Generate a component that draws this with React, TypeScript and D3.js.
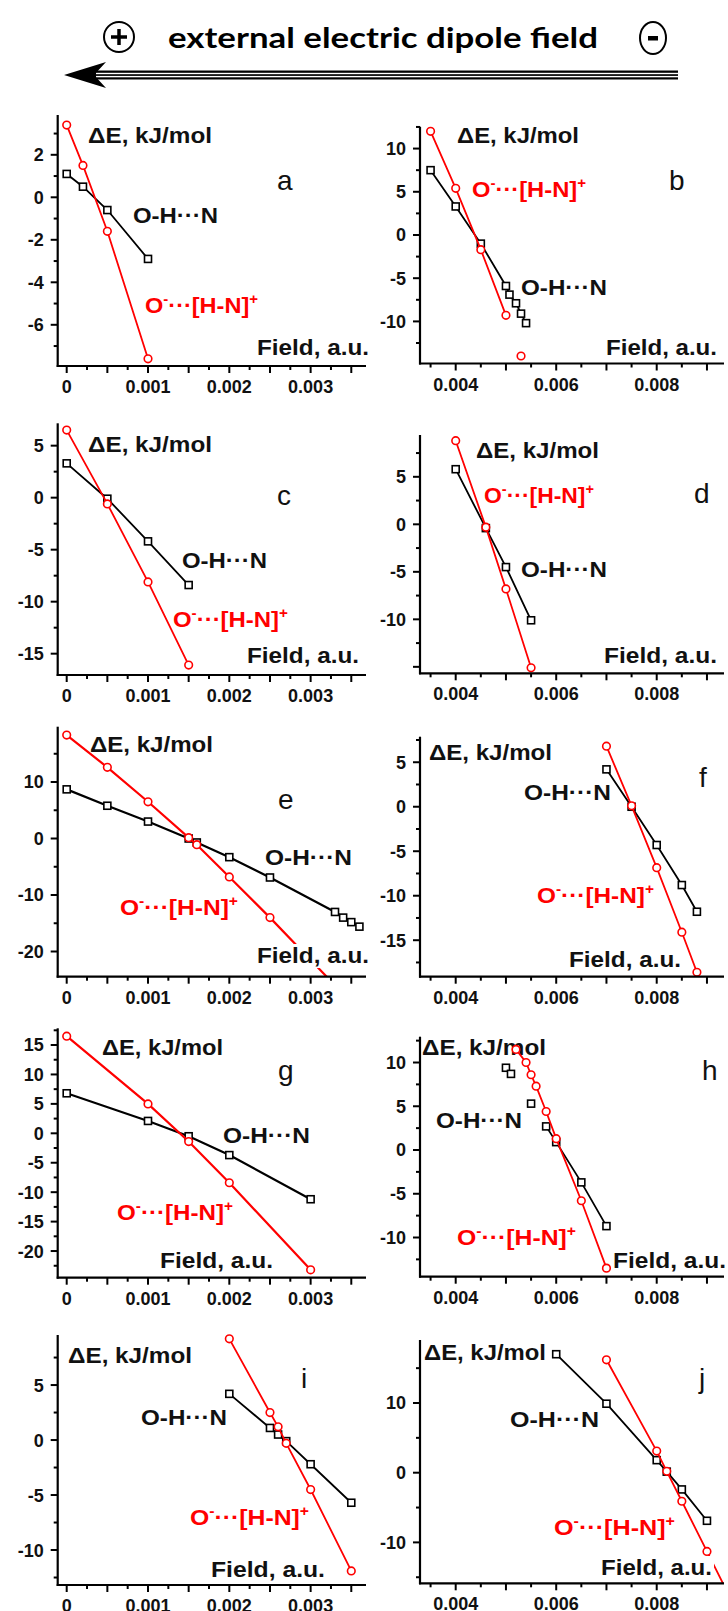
import React from "react";
import * as d3 from "d3";

type Pt = [number, number];

// ---------- data ----------
const aOHN: Pt[] = [[0, 1.1], [0.0002, 0.5], [0.0005, -0.6], [0.001, -2.9]];
const aIon: Pt[] = [[0, 3.4], [0.0002, 1.5], [0.0005, -1.6], [0.001, -7.6]];

const bOHN: Pt[] = [[0.0035, 7.5], [0.004, 3.3], [0.0045, -1.0], [0.005, -5.9], [0.00507, -6.9], [0.0052, -7.9], [0.0053, -9.1], [0.0054, -10.2]];
const bIon: Pt[] = [[0.0035, 12.0], [0.004, 5.4], [0.0045, -1.7], [0.005, -9.3]];
const bIonLone: Pt[] = [[0.0053, -14.0]];

const cOHN: Pt[] = [[0, 3.3], [0.0005, -0.1], [0.001, -4.2], [0.0015, -8.4]];
const cIon: Pt[] = [[0, 6.5], [0.0005, -0.6], [0.001, -8.1], [0.0015, -16.1]];

const dOHN: Pt[] = [[0.004, 5.8], [0.0046, -0.4], [0.005, -4.5], [0.0055, -10.1]];
const dIon: Pt[] = [[0.004, 8.8], [0.0046, -0.3], [0.005, -6.8], [0.0055, -15.1]];

const eOHN: Pt[] = [[0, 8.7], [0.0005, 5.8], [0.001, 3.0], [0.0015, 0.0], [0.0016, -0.7], [0.002, -3.3], [0.0025, -6.9], [0.0033, -13.0], [0.0034, -14.0], [0.0035, -14.8], [0.0036, -15.6]];
const eIon: Pt[] = [[0, 18.3], [0.0005, 12.6], [0.001, 6.5], [0.0015, 0.15], [0.0016, -1.1], [0.002, -6.8], [0.0025, -14.0], [0.003, -21.5], [0.0035, -29]];

const fOHN: Pt[] = [[0.007, 4.2], [0.0075, 0.0], [0.008, -4.3], [0.0085, -8.8], [0.0088, -11.8]];
const fIon: Pt[] = [[0.007, 6.8], [0.0075, 0.1], [0.008, -6.85], [0.0085, -14.1], [0.0088, -18.6]];

const gOHN: Pt[] = [[0, 6.8], [0.001, 2.1], [0.0015, -0.5], [0.002, -3.7], [0.003, -11.2]];
const gIon: Pt[] = [[0, 16.5], [0.001, 5.0], [0.0015, -1.4], [0.002, -8.4], [0.003, -23.2]];

const hOHNLone: Pt[] = [[0.005, 9.4], [0.0051, 8.7], [0.0055, 5.3]];
const hOHN: Pt[] = [[0.0058, 2.7], [0.006, 0.9], [0.0065, -3.7], [0.007, -8.7]];
const hIon: Pt[] = [[0.0052, 11.5], [0.0054, 10.0], [0.0055, 8.6], [0.0056, 7.3], [0.0058, 4.4], [0.006, 1.3], [0.0065, -5.8], [0.007, -13.5]];

const iOHN: Pt[] = [[0.002, 4.2], [0.0025, 1.1], [0.0026, 0.5], [0.0027, -0.1], [0.003, -2.2], [0.0035, -5.7]];
const iIon: Pt[] = [[0.002, 9.2], [0.0025, 2.5], [0.0026, 1.2], [0.0027, -0.3], [0.003, -4.5], [0.0035, -11.9]];

const jOHN: Pt[] = [[0.006, 17.0], [0.007, 9.9], [0.008, 1.8], [0.0082, 0.15], [0.0085, -2.4], [0.009, -6.9]];
const jIon: Pt[] = [[0.007, 16.2], [0.008, 3.1], [0.0082, 0.2], [0.0085, -4.1], [0.009, -11.3], [0.0095, -18.5]];

// tick labels
const col1XLabels = [0, 0.001, 0.002, 0.003];
const col2XLabels = [0.004, 0.006, 0.008];
const aYLabels = [-6, -4, -2, 0, 2];
const bYLabels = [-10, -5, 0, 5, 10];
const cYLabels = [-15, -10, -5, 0, 5];
const dYLabels = [-10, -5, 0, 5];
const eYLabels = [-20, -10, 0, 10];
const fYLabels = [-15, -10, -5, 0, 5];
const gYLabels = [-20, -15, -10, -5, 0, 5, 10, 15];
const hYLabels = [-10, -5, 0, 5, 10];
const iYLabels = [-10, -5, 0, 5];
const jYLabels = [-10, 0, 10];

// axis limits
const col1XDomain: [number, number] = [-0.0001107, 0.003681];
const col2XDomain: [number, number] = [0.0032896, 0.009339];

const FONT = "'Liberation Sans', Arial, Helvetica, sans-serif";
const RED = "#ff0000";
const INK = "#111111";

type Box = [number, number, number]; // x0, x1, baseline

interface PanelSpec {
  key: string;
  letter: string;
  col: 1 | 2;
  top: number;
  axisY: number;
  yDomain: [number, number];
  yLabels: number[];
  yMajor: number;
  yMinor: number;
  black: Pt[];
  red: Pt[];
  blackLone?: Pt[];
  redLone?: Pt[];
  lw: number;
  dE: Box;
  ohn: Box;
  ion: Box;
  field: Box;
  letterPos: [number, number];
}

const panels: PanelSpec[] = [
  { key: "a", letter: "a", col: 1, top: 115, axisY: 366, yDomain: [-7.939, 3.873], yLabels: aYLabels, yMajor: 2, yMinor: 1,
    black: aOHN, red: aIon, lw: 1.8,
    dE: [88, 212, 143], ohn: [133, 218, 223], ion: [145, 258, 313], field: [257, 369, 355], letterPos: [277, 190] },
  { key: "b", letter: "b", col: 2, top: 126.7, axisY: 363.5, yDomain: [-14.87, 12.53], yLabels: bYLabels, yMajor: 5, yMinor: 2.5,
    black: bOHN, red: bIon, redLone: bIonLone, lw: 1.8,
    dE: [457, 579, 143], ohn: [521, 607, 295], ion: [472, 586, 197], field: [606, 717, 355], letterPos: [669, 190] },
  { key: "c", letter: "c", col: 1, top: 423.3, axisY: 675, yDomain: [-17.05, 7.15], yLabels: cYLabels, yMajor: 5, yMinor: 2.5,
    black: cOHN, red: cIon, lw: 1.8,
    dE: [88, 212, 452], ohn: [182, 267, 568], ion: [173, 288, 627], field: [247, 359, 663], letterPos: [277, 505] },
  { key: "d", letter: "d", col: 2, top: 435, axisY: 673.3, yDomain: [-15.68, 9.4], yLabels: dYLabels, yMajor: 5, yMinor: 2.5,
    black: dOHN, red: dIon, lw: 1.8,
    dE: [476, 599, 458], ohn: [521, 607, 577], ion: [484, 594, 503], field: [604, 717, 663], letterPos: [694, 503] },
  { key: "e", letter: "e", col: 1, top: 726.7, axisY: 976.7, yDomain: [-24.46, 19.79], yLabels: eYLabels, yMajor: 10, yMinor: 5,
    black: eOHN, red: eIon, lw: 2.2,
    dE: [90, 213, 752], ohn: [265, 352, 865], ion: [120, 238, 915], field: [257, 369, 963], letterPos: [278, 809] },
  { key: "f", letter: "f", col: 2, top: 736.7, axisY: 976.7, yDomain: [-19.1, 7.87], yLabels: fYLabels, yMajor: 5, yMinor: 2.5,
    black: fOHN, red: fIon, lw: 1.8,
    dE: [429, 552, 760], ohn: [524, 611, 800], ion: [537, 654, 903], field: [569, 681, 967], letterPos: [699, 787] },
  { key: "g", letter: "g", col: 1, top: 1028.3, axisY: 1277.7, yDomain: [-24.53, 17.84], yLabels: gYLabels, yMajor: 5, yMinor: 2.5,
    black: gOHN, red: gIon, lw: 2.2,
    dE: [102, 223, 1055], ohn: [223, 310, 1143], ion: [117, 233, 1220], field: [160, 273, 1268], letterPos: [278, 1080] },
  { key: "h", letter: "h", col: 2, top: 1036.7, axisY: 1276.7, yDomain: [-14.48, 12.95], yLabels: hYLabels, yMajor: 5, yMinor: 2.5,
    black: hOHN, red: hIon, blackLone: hOHNLone, lw: 1.8,
    dE: [422, 546, 1055], ohn: [436, 522, 1128], ion: [457, 576, 1245], field: [613, 726, 1268], letterPos: [702, 1080] },
  { key: "i", letter: "i", col: 1, top: 1335, axisY: 1585, yDomain: [-13.18, 9.55], yLabels: iYLabels, yMajor: 5, yMinor: 2.5,
    black: iOHN, red: iIon, lw: 1.8,
    dE: [68, 192, 1363], ohn: [141, 227, 1425], ion: [190, 309, 1525], field: [211, 325, 1577], letterPos: [301, 1388] },
  { key: "j", letter: "j", col: 2, top: 1340, axisY: 1583.3, yDomain: [-15.87, 19.04], yLabels: jYLabels, yMajor: 10, yMinor: 5,
    black: jOHN, red: jIon, lw: 1.8,
    dE: [424, 546, 1360], ohn: [510, 599, 1427], ion: [554, 675, 1535], field: [601, 712, 1575], letterPos: [699, 1388] },
];

const colGeom = {
  1: { left: 57.7, right: 366, domain: col1XDomain, labels: col1XLabels, major: 0.0005, minor: 0.00025 },
  2: { left: 420, right: 724, domain: col2XDomain, labels: col2XLabels, major: 0.001, minor: 0.0005 },
};

function stepTicks(lo: number, hi: number, step: number): number[] {
  const out: number[] = [];
  const s = Math.ceil(lo / step - 1e-9);
  const e = Math.floor(hi / step + 1e-9);
  for (let k = s; k <= e; k++) out.push(+(k * step).toFixed(8));
  return out;
}

const fmtX = (v: number) => (v === 0 ? "0" : d3.format(".3f")(v));

function Txt({ box, color, children, size = 22 }: { box: Box; color: string; children: React.ReactNode; size?: number }) {
  return (
    <text x={box[0]} y={box[2]} fontFamily={FONT} fontWeight="bold" fontSize={size} fill={color}
      textLength={box[1] - box[0]} lengthAdjust="spacingAndGlyphs">
      {children}
    </text>
  );
}

function IonLabel({ box }: { box: Box }) {
  return (
    <text x={box[0]} y={box[2]} fontFamily={FONT} fontWeight="bold" fontSize={22} fill={RED}
      textLength={box[1] - box[0]} lengthAdjust="spacingAndGlyphs">
      O<tspan fontSize={14} dy={-9}>-</tspan><tspan fontSize={22} dy={9}>···[H-N]</tspan><tspan fontSize={14} dy={-9}>+</tspan>
    </text>
  );
}

function Panel({ p }: { p: PanelSpec }) {
  const g = colGeom[p.col];
  const x = d3.scaleLinear().domain(g.domain).range([g.left, g.right]);
  const y = d3.scaleLinear().domain(p.yDomain).range([p.axisY, p.top]);
  const line = d3.line<Pt>().x((d) => x(d[0])).y((d) => y(d[1]));
  const xMajor = stepTicks(g.domain[0], g.domain[1], g.major);
  const xMinor = stepTicks(g.domain[0], g.domain[1], g.minor).filter((v) => !xMajor.some((m) => Math.abs(m - v) < 1e-9));
  const yMajor = stepTicks(p.yDomain[0], p.yDomain[1], p.yMajor);
  const yMinor = stepTicks(p.yDomain[0], p.yDomain[1], p.yMinor).filter((v) => !yMajor.some((m) => Math.abs(m - v) < 1e-9));
  const clipId = `clip-${p.key}`;
  const sq = 7;
  const redAll = [...p.red, ...(p.redLone || [])];
  const blackAll = [...p.black, ...(p.blackLone || [])];
  const fb = p.field;
  return (
    <g>
      <defs>
        <clipPath id={clipId}>
          <rect x={g.left} y={p.top - 30} width={g.right - g.left + 6} height={p.axisY - p.top + 30} />
        </clipPath>
      </defs>
      {/* text labels */}
      <Txt box={p.dE} color={INK}>ΔE, kJ/mol</Txt>
      <Txt box={p.ohn} color={INK}>O-H···N</Txt>
      <IonLabel box={p.ion} />
      <text x={p.letterPos[0]} y={p.letterPos[1]} fontFamily={FONT} fontSize={28} fill={INK}>{p.letter}</text>
      {/* series */}
      <g clipPath={`url(#${clipId})`}>
        <path d={line(p.black) || ""} fill="none" stroke="#000" strokeWidth={p.lw} />
        {blackAll.map((d, i) => (
          <rect key={"b" + i} x={x(d[0]) - sq / 2} y={y(d[1]) - sq / 2} width={sq} height={sq} fill="#fff" stroke="#000" strokeWidth={1.6} />
        ))}
        <path d={line(p.red) || ""} fill="none" stroke={RED} strokeWidth={p.lw} />
        {redAll.map((d, i) => (
          <circle key={"r" + i} cx={x(d[0])} cy={y(d[1])} r={3.8} fill="#fff" stroke={RED} strokeWidth={1.6} />
        ))}
      </g>
      {/* Field label with white background */}
      <rect x={fb[0] - 2} y={fb[2] - 19} width={fb[1] - fb[0] + 4} height={24} fill="#fff" />
      <Txt box={fb} color={INK}>Field, a.u.</Txt>
      {/* axes */}
      <line x1={g.left} x2={g.left} y1={p.top} y2={p.axisY + 1} stroke="#000" strokeWidth={2.2} />
      <line x1={g.left - 1} x2={g.right} y1={p.axisY} y2={p.axisY} stroke="#000" strokeWidth={2.2} />
      {yMajor.map((v) => (
        <line key={"ym" + v} x1={g.left - 7} x2={g.left} y1={y(v)} y2={y(v)} stroke="#000" strokeWidth={2} />
      ))}
      {yMinor.map((v) => (
        <line key={"yn" + v} x1={g.left - 4} x2={g.left} y1={y(v)} y2={y(v)} stroke="#000" strokeWidth={2} />
      ))}
      {p.yLabels.map((v) => (
        <text key={"yl" + v} x={g.left - 14} y={y(v)} dy="0.36em" textAnchor="end" fontFamily={FONT} fontWeight="bold" fontSize={18} fill={INK}>
          {String(v)}
        </text>
      ))}
      {xMajor.map((v) => (
        <line key={"xm" + v} x1={x(v)} x2={x(v)} y1={p.axisY} y2={p.axisY + 7} stroke="#000" strokeWidth={2} />
      ))}
      {xMinor.map((v) => (
        <line key={"xn" + v} x1={x(v)} x2={x(v)} y1={p.axisY} y2={p.axisY + 4} stroke="#000" strokeWidth={2} />
      ))}
      {g.labels.map((v) => (
        <text key={"xl" + v} x={x(v)} y={p.axisY + 27} textAnchor="middle" fontFamily={FONT} fontWeight="bold" fontSize={18} fill={INK}>
          {fmtX(v)}
        </text>
      ))}
    </g>
  );
}

function Header() {
  return (
    <g>
      <circle cx={119} cy={37} r={15} fill="#fff" stroke="#000" strokeWidth={2} />
      <line x1={111} x2={127} y1={37} y2={37} stroke="#000" strokeWidth={3.5} />
      <line x1={119} x2={119} y1={29} y2={45} stroke="#000" strokeWidth={3.5} />
      <text x={168} y={48} fontFamily="Lato, 'Open Sans', sans-serif" fontWeight="bold" fontSize={28} fill="#000"
        textLength={430} lengthAdjust="spacingAndGlyphs">external electric dipole field</text>
      <ellipse cx={653} cy={38} rx={13} ry={16} fill="#fff" stroke="#000" strokeWidth={2} />
      <rect x={648} y={36} width={10} height={4.5} fill="#000" />
      {/* double-line arrow */}
      <rect x={92} y={70.5} width={586} height={9} fill="#000" />
      <rect x={96} y={72.8} width={582} height={1.4} fill="#fff" />
      <rect x={96} y={75.9} width={582} height={1.4} fill="#fff" />
      <path d="M64,75 L106,62 L94,75 L106,88 Z" fill="#000" />
    </g>
  );
}

export default function App() {
  return (
    <svg width={728} height={1611} viewBox="0 0 728 1611"
      style={{ display: "block", position: "absolute", left: 0, top: 0, background: "#fff" }}>
      <rect x={0} y={0} width={728} height={1611} fill="#fff" />
      <Header />
      {panels.map((p) => (
        <Panel key={p.key} p={p} />
      ))}
    </svg>
  );
}
